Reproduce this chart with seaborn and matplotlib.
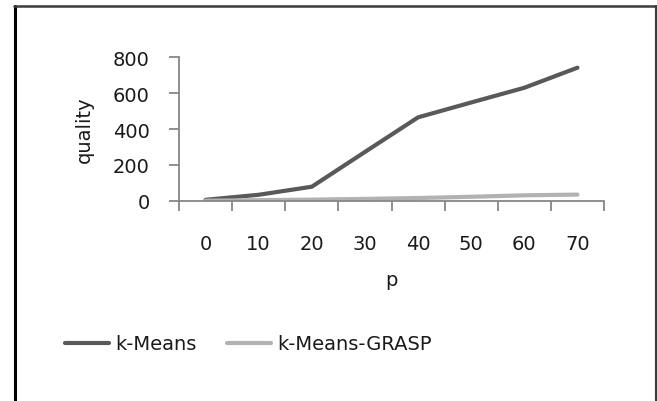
import matplotlib
matplotlib.use("Agg")
import matplotlib.pyplot as plt
from matplotlib.lines import Line2D
from matplotlib.ticker import FixedLocator
import seaborn as sns
import pandas as pd

# Number of medians p and the resulting solution quality
p_values = ["0", "10", "20", "30", "40", "50", "60", "70"]
kmeans_quality = [5, 33, 78, 272, 465, 548, 630, 742]
grasp_quality = [0, 3, 6, 10, 15, 22, 30, 34]

series_names = ["k-Means", "k-Means-GRASP"]
series_colors = ["#595959", "#b2b2b2"]

df = pd.DataFrame({
    "p": p_values * 2,
    "quality": kmeans_quality + grasp_quality,
    "method": [series_names[0]] * len(p_values) + [series_names[1]] * len(p_values),
})

sns.set_theme(style="white")
plt.rcParams["font.family"] = ["DejaVu Sans"]

W, H = 657, 402
FS = 14
fig = plt.figure(figsize=(W / 100, H / 100), dpi=100)
ax = fig.add_axes([179 / W, 1 - 201.7 / H, (604 - 179) / W, (201.7 - 58.3) / H])

sns.lineplot(data=df, x="p", y="quality", hue="method", palette=series_colors,
             hue_order=series_names, linewidth=3.0, ax=ax, legend=False, sort=False)
for ln in ax.lines:
    ln.set_solid_capstyle("round")
    ln.set_solid_joinstyle("round")

n = len(p_values)
ax.set_xlim(-0.5, n - 0.5)
ax.set_ylim(0, 800)
ax.set_yticks([0, 200, 400, 600, 800])
ax.set_xticks(range(n))
ax.set_xticklabels(p_values)
ax.xaxis.set_minor_locator(FixedLocator([i - 0.5 for i in range(n + 1)]))

axis_color = "#868686"
text_color = "#1a1a1a"
for side in ["top", "right"]:
    ax.spines[side].set_visible(False)
for side in ["left", "bottom"]:
    ax.spines[side].set_color(axis_color)
    ax.spines[side].set_linewidth(1.3)

ax.tick_params(axis="x", which="major", length=0, pad=24, labelsize=FS, labelcolor=text_color)
ax.tick_params(axis="x", which="minor", length=7, width=1.3, color=axis_color, direction="out", bottom=True)
ax.tick_params(axis="y", which="major", length=7, width=1.3, color=axis_color, direction="out", left=True,
               pad=14, labelsize=FS, labelcolor=text_color)

ax.set_xlabel("p", fontsize=FS, color=text_color, labelpad=12)
ax.set_ylabel("quality", fontsize=FS, color=text_color, labelpad=14)
ax.grid(False)

handles = [Line2D([], [], color=c, linewidth=3.0) for c in series_colors]
fig.legend(handles, series_names, loc="center left", bbox_to_anchor=(47 / W, 1 - 345 / H),
           ncol=2, frameon=False, fontsize=FS, handlelength=2.3, handletextpad=0.3,
           columnspacing=1.55, labelcolor=text_color)

# Outer frame around the chart
fig.add_artist(Line2D([15 / W, 15 / W], [0, 1 - 7 / H], transform=fig.transFigure, color="black", linewidth=2.2))
fig.add_artist(Line2D([14 / W, 1], [1 - 7 / H, 1 - 7 / H], transform=fig.transFigure, color="#3a3a3a", linewidth=1.8))
fig.add_artist(Line2D([656 / W, 656 / W], [0, 1 - 7 / H], transform=fig.transFigure, color="#3a3a3a", linewidth=1.5))

fig.savefig("out.png", dpi=100)
